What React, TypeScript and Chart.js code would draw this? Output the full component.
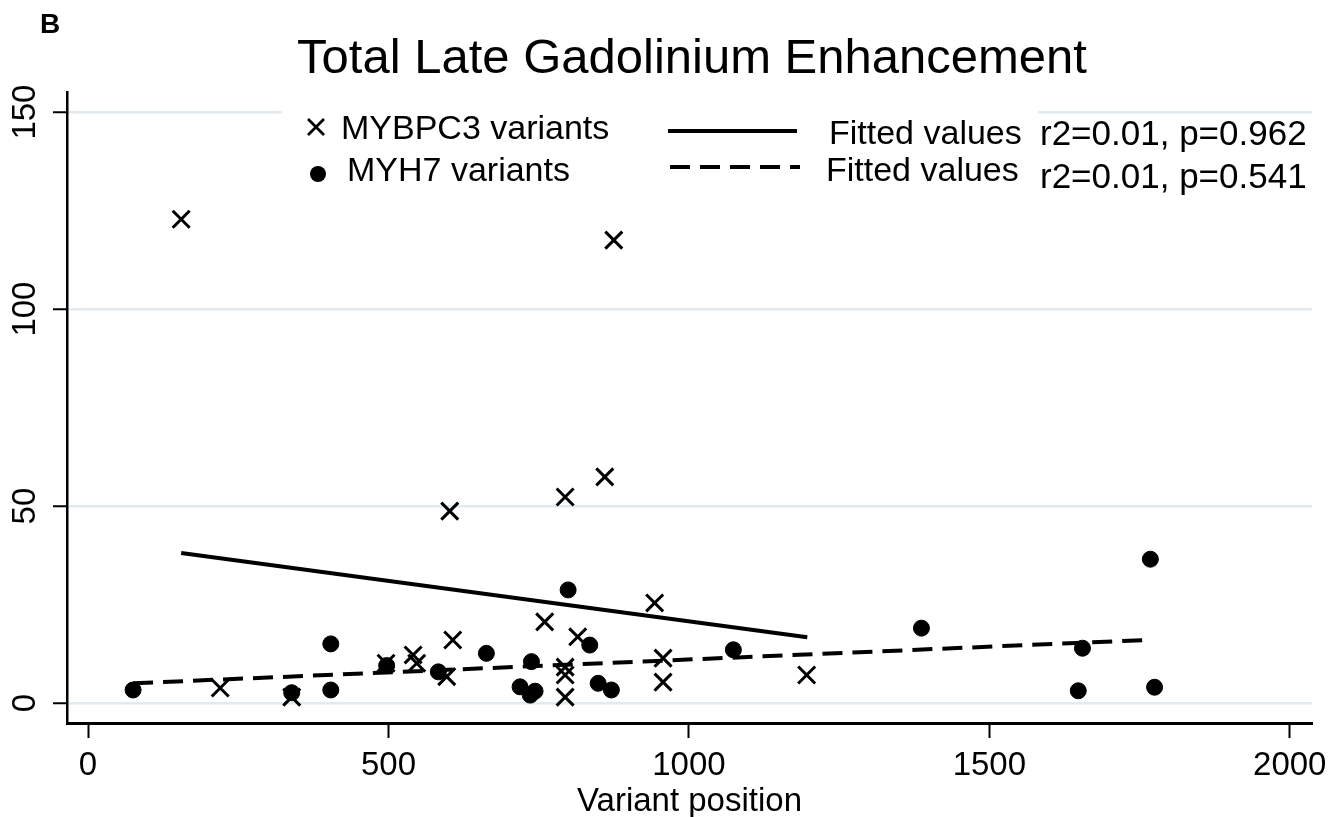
import React, { useEffect, useRef } from 'react';
import { Chart, registerables } from 'chart.js';

Chart.register(...registerables);

const FONT = "'Liberation Sans', Arial, sans-serif";

const panelLabel = 'B';
const chartTitle = 'Total Late Gadolinium Enhancement';
const xAxisTitle = 'Variant position';
const xTicks = [0, 500, 1000, 1500, 2000];
const yTicks = [0, 50, 100, 150];

const mybpc3X = [155, 220, 339, 496, 541, 547, 602, 607, 597, 794, 860, 760, 815, 794, 794, 794, 943, 957, 957, 1196, 875];
const mybpc3Y = [122.8, 3.8, 1.5, 10.1, 12.2, 10.1, 48.7, 16.0, 6.7, 52.3, 57.4, 20.6, 16.8, 9.1, 7.1, 1.5, 25.4, 11.4, 5.3, 7.1, 117.5];

const myh7X = [75, 339, 404, 404, 497, 583, 663, 738, 719, 736, 744, 799, 835, 849, 871, 1074, 1387, 1655, 1648, 1768, 1775];
const myh7Y = [3.3, 2.6, 15.0, 3.3, 9.5, 7.9, 12.6, 10.5, 4.1, 2.0, 3.0, 28.7, 14.7, 5.0, 3.3, 13.5, 19.0, 13.9, 3.1, 36.5, 4.0];

const fitMybpc3X = [155, 1197];
const fitMybpc3Y = [38.1, 16.7];
const fitMyh7X = [75, 1761];
const fitMyh7Y = [5.0, 16.0];

const seriesLabels = ['MYBPC3 variants', 'MYH7 variants', 'Fitted values', 'Fitted values'];
const fitStats = ['r2=0.01, p=0.962', 'r2=0.01, p=0.541'];

const toPoints = (xs: number[], ys: number[]) => xs.map((x, i) => ({ x, y: ys[i] }));

const overlayPlugin = {
  id: 'overlay',
  beforeDatasetsDraw(chart: any) {
    const ctx = chart.ctx;
    ctx.save();
    ctx.fillStyle = '#ffffff';
    ctx.fillRect(282, 97, 756, 96);
    ctx.restore();
  },
  afterDraw(chart: any) {
    const ctx = chart.ctx;
    ctx.save();
    ctx.fillStyle = '#000';
    ctx.strokeStyle = '#000';
    // panel label
    ctx.font = `bold 28px ${FONT}`;
    ctx.textAlign = 'left';
    ctx.textBaseline = 'alphabetic';
    ctx.fillText(panelLabel, 40, 33);
    // title
    ctx.font = `49px ${FONT}`;
    ctx.textAlign = 'center';
    ctx.fillText(chartTitle, 692, 73);

    // legend
    ctx.font = `34px ${FONT}`;
    ctx.textAlign = 'left';
    ctx.textBaseline = 'middle';
    // cross marker
    ctx.lineWidth = 2.8;
    ctx.beginPath();
    ctx.moveTo(308, 119); ctx.lineTo(324, 135);
    ctx.moveTo(324, 119); ctx.lineTo(308, 135);
    ctx.stroke();
    ctx.fillText(seriesLabels[0], 341, 130);
    // circle marker
    ctx.beginPath();
    ctx.arc(318, 174, 8, 0, Math.PI * 2);
    ctx.fill();
    ctx.fillText(seriesLabels[1], 347, 172);
    // solid line
    ctx.lineWidth = 4;
    ctx.beginPath();
    ctx.moveTo(668, 131); ctx.lineTo(797, 131);
    ctx.stroke();
    // dashed line
    ctx.setLineDash([20, 10]);
    ctx.beginPath();
    ctx.moveTo(670, 167); ctx.lineTo(800, 167);
    ctx.stroke();
    ctx.setLineDash([]);
    ctx.fillText(seriesLabels[2], 829, 135);
    ctx.fillText(seriesLabels[3], 826, 172);
    ctx.font = `35px ${FONT}`;
    ctx.fillText(fitStats[0], 1040, 135);
    ctx.fillText(fitStats[1], 1040, 178);
    ctx.restore();
  },
};

export default function App() {
  const ref = useRef<HTMLCanvasElement | null>(null);

  useEffect(() => {
    if (!ref.current) return;
    Chart.defaults.font.family = FONT;
    const chart = new Chart(ref.current, {
      type: 'scatter',
      data: {
        datasets: [
          {
            label: seriesLabels[0],
            data: toPoints(mybpc3X, mybpc3Y),
            pointStyle: 'crossRot',
            pointRadius: 12,
            pointBorderWidth: 3,
            borderColor: '#000',
            backgroundColor: '#000',
          },
          {
            label: seriesLabels[1],
            data: toPoints(myh7X, myh7Y),
            pointStyle: 'circle',
            pointRadius: 8,
            pointBorderWidth: 1,
            borderColor: '#000',
            backgroundColor: '#000',
          },
          {
            label: seriesLabels[2],
            data: toPoints(fitMybpc3X, fitMybpc3Y),
            showLine: true,
            pointRadius: 0,
            borderColor: '#000',
            borderWidth: 4,
          },
          {
            label: seriesLabels[3],
            data: toPoints(fitMyh7X, fitMyh7Y),
            showLine: true,
            pointRadius: 0,
            borderColor: '#000',
            borderWidth: 4,
            borderDash: [20, 10],
          },
        ],
      },
      options: {
        responsive: false,
        animation: false,
        layout: { padding: { top: 92, right: 31, left: 0, bottom: 0 } },
        plugins: {
          legend: { display: false },
          title: { display: false },
          tooltip: { enabled: false },
        },
        scales: {
          x: {
            type: 'linear',
            min: -35,
            max: 2037,
            afterBuildTicks: (s: any) => {
              s.ticks = xTicks.map((v) => ({ value: v }));
            },
            afterFit: (s: any) => {
              s.height = 94;
            },
            grid: {
              drawOnChartArea: false,
              drawTicks: true,
              tickLength: 15,
              tickColor: '#000',
              tickWidth: 2,
            },
            border: { display: true, color: '#000', width: 3 },
            ticks: {
              color: '#000',
              font: { size: 33 },
              padding: 8,
              maxRotation: 0,
              minRotation: 0,
              callback: (v: any) => String(v),
            },
            title: {
              display: true,
              text: xAxisTitle,
              color: '#000',
              font: { size: 33 },
              padding: { top: 0, bottom: -5 },
            },
          },
          y: {
            type: 'linear',
            min: -5.08,
            max: 155.1,
            afterBuildTicks: (s: any) => {
              s.ticks = yTicks.map((v) => ({ value: v }));
            },
            afterFit: (s: any) => {
              s.width = 67;
            },
            grid: {
              drawOnChartArea: true,
              color: '#e1eaee',
              lineWidth: 2.5,
              drawTicks: true,
              tickLength: 14,
              tickColor: '#000',
              tickWidth: 2,
            },
            border: { display: true, color: '#000', width: 2.5 },
            ticks: {
              color: '#000',
              font: { size: 33 },
              padding: 0,
              minRotation: 90,
              maxRotation: 90,
              crossAlign: 'center',
              callback: (v: any) => String(v),
            },
          },
        },
      },
      plugins: [overlayPlugin],
    } as any);
    return () => chart.destroy();
  }, []);

  return (
    <div style={{ position: 'absolute', left: 0, top: 0, width: 1343, height: 817, background: '#fff' }}>
      <canvas ref={ref} width={1343} height={817} style={{ display: 'block', width: 1343, height: 817 }} />
    </div>
  );
}
